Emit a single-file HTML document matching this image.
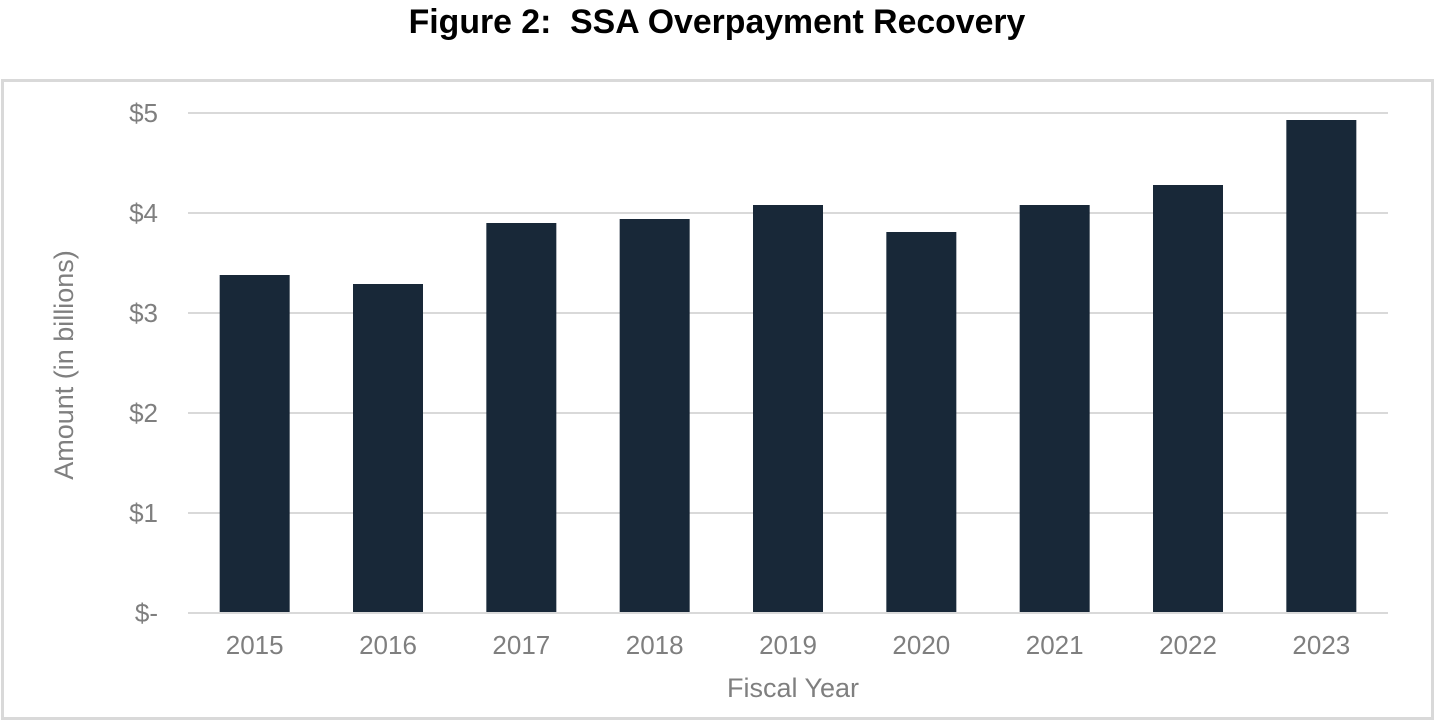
<!DOCTYPE html>
<html><head><meta charset="utf-8"><style>
html,body{margin:0;padding:0;background:#fff;}
body{width:1434px;height:720px;overflow:hidden;position:relative;font-family:"Liberation Sans",Arial,sans-serif;}
#title{position:absolute;left:0;top:3px;width:1434px;text-align:center;font-weight:bold;font-size:33.8px;white-space:pre;color:#000;}
#frame{position:absolute;left:1px;top:79px;width:1427px;height:635px;border:3px solid #d9d9d9;}
svg{position:absolute;left:0;top:0;}
</style></head><body>
<div id="title">Figure 2:  SSA Overpayment Recovery</div>
<div id="frame"></div>
<svg id="chart" width="1434" height="720"></svg>
<script>
const categories=["2015","2016","2017","2018","2019","2020","2021","2022","2023"];
const values=[3.38,3.29,3.90,3.94,4.08,3.81,4.08,4.28,4.93];
const tickValues=[0,1,2,3,4,5];
const tickLabels=["$-","$1","$2","$3","$4","$5"];
const NS="http://www.w3.org/2000/svg";
const svg=document.getElementById('chart');
const x0=188,x1=1388,yBase=613,yTop=113,vMax=5;
const y=v=>yBase-(yBase-yTop)*v/vMax;
const band=(x1-x0)/categories.length;
const xc=i=>x0+band*(i+0.5);
const bw=70;
function mk(t,a){const e=document.createElementNS(NS,t);for(const k in a)e.setAttribute(k,a[k]);svg.appendChild(e);return e;}
tickValues.forEach((v,i)=>{
 const l=mk('line',{x1:x0,x2:x1,y1:y(v),y2:y(v),stroke:'#d9d9d9','stroke-width':2});
 
 
 const t=mk('text',{x:158,y:y(v)+9,'text-anchor':'end','font-size':26,fill:'#7f7f7f','font-family':'Liberation Sans, Arial, sans-serif'});
 t.textContent=tickLabels[i];
 
 
});
categories.forEach((c,i)=>{
 const r=mk('rect',{x:xc(i)-bw/2,y:y(values[i]),width:bw,height:yBase-1-y(values[i]),fill:'#182838'});
 
 
 const t=mk('text',{x:xc(i),y:654,'text-anchor':'middle','font-size':26,fill:'#7f7f7f','font-family':'Liberation Sans, Arial, sans-serif'});
 t.textContent=c;
 
 
});
const xt=mk('text',{x:793,y:697,'text-anchor':'middle','font-size':27,fill:'#7f7f7f','font-family':'Liberation Sans, Arial, sans-serif'});
xt.textContent='Fiscal Year';


const yt=mk('text',{x:0,y:0,'text-anchor':'middle','font-size':27,fill:'#7f7f7f','font-family':'Liberation Sans, Arial, sans-serif',transform:'translate(73,365) rotate(-90)'});
yt.textContent='Amount (in billions)';


</script>
</body></html>
